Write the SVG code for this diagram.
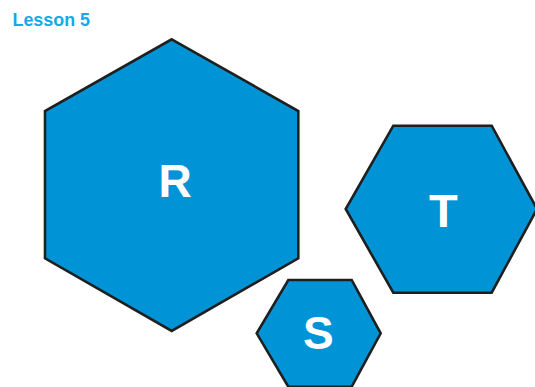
<svg xmlns="http://www.w3.org/2000/svg" width="535" height="387" viewBox="0 0 535 387">
<style>
.hex{fill:#0094d6;stroke:#1f1f1f;stroke-width:2.6;stroke-linejoin:miter}
.lbl{font-family:"Liberation Sans",Arial,sans-serif;font-weight:bold;fill:#ffffff;text-anchor:middle}
.title{font-family:"Liberation Sans",Arial,sans-serif;font-weight:bold;fill:#14aae6}
</style>
<rect width="535" height="387" fill="#ffffff"/>
<text class="title" x="12.5" y="25.7" font-size="19" textLength="77.5" lengthAdjust="spacingAndGlyphs">Lesson 5</text>
<g id="R">
<polygon class="hex" points="171.7,39.3 298.3,111 298.3,258.3 171.7,331 45,258.3 45,111"/>
<text class="lbl" x="175" y="197" font-size="46">R</text>
</g>
<g id="T">
<polygon class="hex" points="393.3,125.7 491.7,125.7 537,209 491.7,292.7 393.3,292.7 345.7,209"/>
<text class="lbl" x="443.3" y="227.3" font-size="47">T</text>
</g>
<g id="S">
<polygon class="hex" points="288.3,280 351.7,280 380.7,333.3 351.7,386.7 288.3,386.7 256.7,333.3"/>
<text class="lbl" x="318.3" y="349" font-size="46">S</text>
</g>
<g id="connectors"></g>
</svg>
